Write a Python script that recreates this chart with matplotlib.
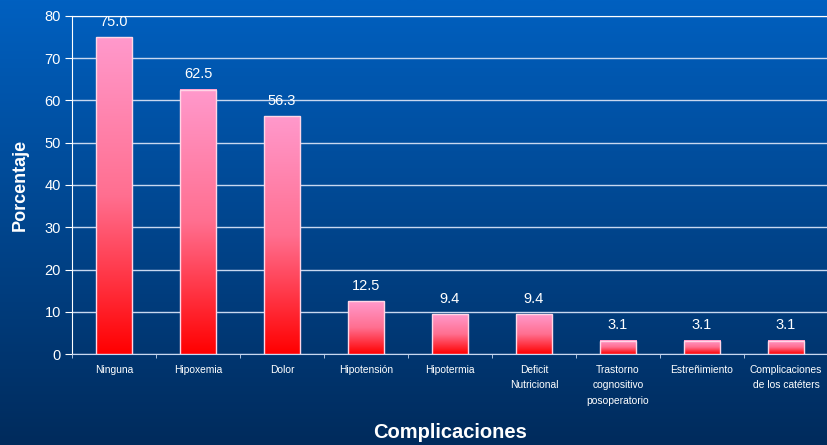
import numpy as np
import matplotlib.pyplot as plt
from matplotlib.colors import LinearSegmentedColormap
from matplotlib.patches import Rectangle

plt.rcParams['font.family'] = ['Liberation Sans', 'DejaVu Sans']

categorias = ['Ninguna', 'Hipoxemia', 'Dolor', 'Hipotensión', 'Hipotermia',
              'Deficit\nNutricional', 'Trastorno\ncognositivo\nposoperatorio',
              'Estreñimiento', 'Complicaciones\nde los catéters']
porcentajes = [75.0, 62.5, 56.3, 12.5, 9.4, 9.4, 3.1, 3.1, 3.1]
etiquetas = ['75.0', '62.5', '56.3', '12.5', '9.4', '9.4', '3.1', '3.1', '3.1']

fig = plt.figure(figsize=(8.28, 4.45), dpi=100)

# background gradient
bg = fig.add_axes([0, 0, 1, 1], zorder=-10)
bg_cmap = LinearSegmentedColormap.from_list('bg', ['#002b5c', '#0060c0'])
bg.imshow(np.linspace(0, 1, 256).reshape(-1, 1), cmap=bg_cmap, aspect='auto',
          origin='lower', extent=[0, 1, 0, 1])
bg.set_axis_off()

ax = fig.add_axes([72 / 828, 1 - 354 / 445, 1 - 72 / 828, (354 - 16) / 445])
ax.patch.set_alpha(0)

bar_cmap = LinearSegmentedColormap.from_list('bar', ['#ff0000', '#ff6f90', '#ff99cc'])
grad = np.linspace(0, 1, 256).reshape(-1, 1)
w = 0.43
x = np.arange(len(categorias))
for xi, v, lab in zip(x, porcentajes, etiquetas):
    ax.imshow(grad, cmap=bar_cmap, aspect='auto', origin='lower',
              extent=[xi - w / 2, xi + w / 2, 0, v], zorder=3)
    ax.add_patch(Rectangle((xi - w / 2, 0), w, v, fill=False,
                           edgecolor='#ffd6e6', lw=1.0, zorder=4))
    ax.text(xi, v + 2.0, lab, ha='center', va='bottom', color='white', fontsize=10.5,
            zorder=5)

ax.set_xlim(-0.5, 8.47)
ax.set_ylim(0, 80)
ax.set_yticks(range(0, 81, 10))
ax.yaxis.grid(True, color='#c8d8f0', lw=1.0, zorder=1)
ax.set_axisbelow(True)

ax.set_xticks(x)
ax.set_xticklabels(categorias, fontsize=7.4, color='white', linespacing=1.65)
ax.set_xticks(np.arange(-0.5, 8.6, 1), minor=True)
ax.tick_params(axis='x', which='major', length=0, pad=8)
ax.tick_params(axis='x', which='minor', length=3, color='#c8d8f0', direction='out')
ax.tick_params(axis='y', length=5, color='white', labelcolor='white', labelsize=10.5, pad=3)

ax.spines['right'].set_visible(False)
ax.spines['top'].set_color('white')
ax.spines['left'].set_color('white')
ax.spines['bottom'].set_color('#c8d8f0')

ax.set_ylabel('Porcentaje', color='white', fontsize=13, fontweight='bold', labelpad=11)
fig.text(450 / 828, 1 - 432 / 445, 'Complicaciones', ha='center', va='center',
         color='white', fontsize=14.5, fontweight='bold')

fig.savefig('out.png', dpi=100)
